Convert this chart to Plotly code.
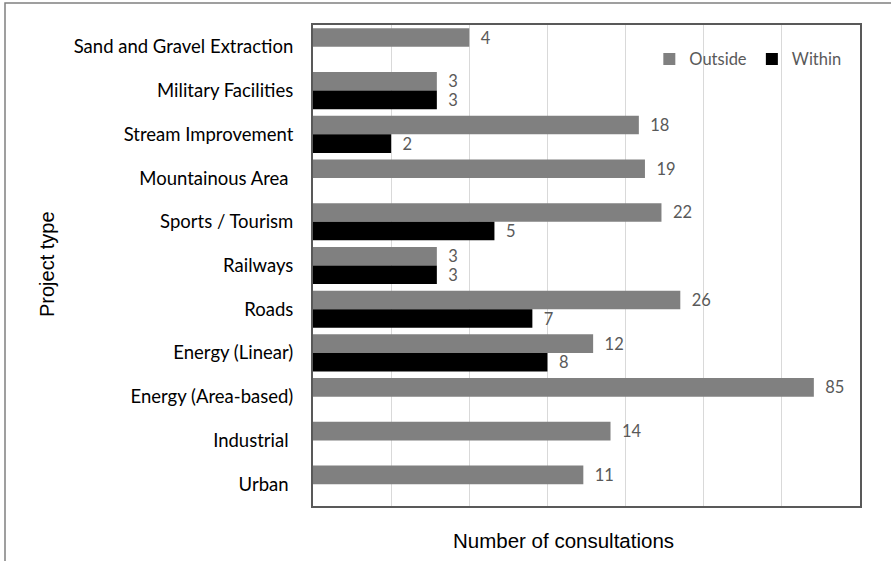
import plotly.graph_objects as go
import math

categories = ["Sand and Gravel Extraction", "Military Facilities", "Stream Improvement",
              "Mountainous Area\u00a0", "Sports / Tourism", "Railways", "Roads",
              "Energy (Linear)", "Energy (Area-based)", "Industrial\u00a0", "Urban\u00a0"]
outside = [4, 3, 18, 19, 22, 3, 26, 12, 85, 14, 11]
within = [None, 3, 2, None, 5, 3, 7, 8, None, None, None]
grid_vals = [1, 2, 4, 8, 16, 32, 64, 128]

W, H = 891, 561
L, R, T, B = 313, 31, 25, 55
pw, ph = W - L - R, H - T - B

lab_font = dict(family="Lato, Open Sans, sans-serif", size=16.5, color="#595959")

fig = go.Figure()
fig.add_trace(go.Bar(name="Outside", y=categories, x=outside, orientation="h",
                     marker=dict(color="#808080", line=dict(width=0)),
                     texttemplate="\u00a0\u00a0%{x}", textposition="outside",
                     constraintext="none",
                     textfont=lab_font, cliponaxis=False))
fig.add_trace(go.Bar(name="Within", y=categories, x=within, orientation="h",
                     marker=dict(color="#000000", line=dict(width=0)),
                     texttemplate="\u00a0\u00a0%{x}", textposition="outside",
                     constraintext="none",
                     textfont=lab_font, cliponaxis=False))

fig.update_layout(
    width=W, height=H, autosize=False,
    margin=dict(l=L, r=R, t=T, b=B),
    paper_bgcolor="white", plot_bgcolor="white",
    barmode="group", bargap=0.15, bargroupgap=0,
    uniformtext=dict(mode=False),
    showlegend=True,
    legend=dict(orientation="h", x=0.975, xanchor="right", y=0.965, yanchor="top",
                font=dict(family="Lato, Open Sans, sans-serif", size=16.5, color="#595959"),
                bgcolor="rgba(0,0,0,0)", itemwidth=30, traceorder="normal"),
    xaxis=dict(type="log", range=[0, math.log10(128)], tickvals=grid_vals,
               showticklabels=False, showgrid=True, gridcolor="#d9d9d9", gridwidth=1,
               zeroline=False, showline=True, linecolor="#595959", linewidth=2, mirror=True,
               ticks=""),
    yaxis=dict(autorange="reversed", showgrid=False, showline=True, linecolor="#595959",
               linewidth=2, mirror=True, ticks="", ticklabelstandoff=14,
               tickfont=dict(family="Lato, Open Sans, sans-serif", size=18.5, color="#000000")),
    font=dict(family="Lato, Open Sans, sans-serif"),
)

# axis titles
fig.add_annotation(text="Number of consultations", xref="paper", yref="paper",
                   x=(563 - L) / pw, y=(H - B - 540) / ph, xanchor="center", yanchor="middle",
                   showarrow=False, font=dict(family="Liberation Sans, Arial", size=20.5, color="#000"))
fig.add_annotation(text="Project type", xref="paper", yref="paper",
                   x=(47 - L) / pw, y=(H - B - 264) / ph, xanchor="center", yanchor="middle",
                   textangle=-90, showarrow=False,
                   font=dict(family="Liberation Sans, Arial", size=20, color="#000"))

# outer frame (partially outside the image)
fig.add_shape(type="rect", xref="paper", yref="paper",
              x0=(5 - L) / pw, x1=(899 - L) / pw,
              y0=(H - B - 570) / ph, y1=(H - B - 3) / ph,
              line=dict(color="#808080", width=1.5), fillcolor="rgba(0,0,0,0)", layer="below")

fig.write_html("out.html")
